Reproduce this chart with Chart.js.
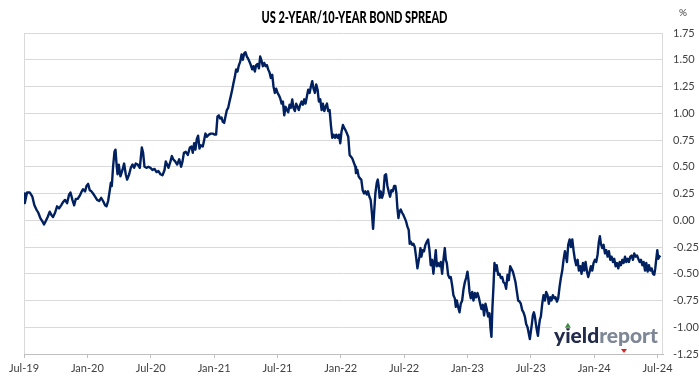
<!DOCTYPE html>
<html lang="en">
  <head>
    <meta charset="UTF-8" />
    <title>US 2-Year/10-Year Bond Spread</title>
    <script src="https://cdn.jsdelivr.net/npm/chart.js"></script>
    <style>
      html, body { margin: 0; padding: 0; background: #fff; }
      .chart-container { position: relative; width: 699px; height: 385px; }
    </style>
  </head>
  <body>
    <div class="chart-container">
      <canvas id="spreadChart"></canvas>
    </div>

    <script>
      // dates are decimal years (Jul-19 = 2019.5), spread in % points
      const dates = [
        2019.500, 2019.506, 2019.524, 2019.545, 2019.566, 2019.582, 2019.598, 2019.613, 2019.629, 2019.645,
        2019.658, 2019.671, 2019.687, 2019.703, 2019.716, 2019.729, 2019.745, 2019.761, 2019.777, 2019.793,
        2019.808, 2019.824, 2019.840, 2019.856, 2019.867, 2019.882, 2019.896, 2019.909, 2019.924, 2019.940,
        2019.956, 2019.966, 2019.982, 2019.993, 2020.006, 2020.019, 2020.032, 2020.045, 2020.061, 2020.077,
        2020.093, 2020.109, 2020.124, 2020.140, 2020.151, 2020.164, 2020.177, 2020.185, 2020.193, 2020.203,
        2020.214, 2020.222, 2020.230, 2020.238, 2020.248, 2020.261, 2020.277, 2020.290, 2020.303, 2020.314,
        2020.330, 2020.343, 2020.356, 2020.369, 2020.382, 2020.398, 2020.414, 2020.430, 2020.440, 2020.451,
        2020.466, 2020.482, 2020.498, 2020.514, 2020.530, 2020.546, 2020.561, 2020.577, 2020.593, 2020.609,
        2020.619, 2020.630, 2020.640, 2020.656, 2020.667, 2020.677, 2020.693, 2020.709, 2020.725, 2020.740,
        2020.751, 2020.762, 2020.777, 2020.793, 2020.809, 2020.822, 2020.832, 2020.843, 2020.853, 2020.864,
        2020.874, 2020.885, 2020.895, 2020.911, 2020.922, 2020.932, 2020.943, 2020.959, 2020.974, 2020.990,
        2021.006, 2021.016, 2021.027, 2021.038, 2021.048, 2021.059, 2021.069, 2021.080, 2021.090, 2021.101,
        2021.111, 2021.122, 2021.132, 2021.143, 2021.153, 2021.164, 2021.174, 2021.185, 2021.196, 2021.206,
        2021.217, 2021.227, 2021.238, 2021.248, 2021.259, 2021.269, 2021.280, 2021.290, 2021.301, 2021.311,
        2021.322, 2021.332, 2021.343, 2021.354, 2021.364, 2021.375, 2021.385, 2021.396, 2021.406, 2021.417,
        2021.427, 2021.438, 2021.448, 2021.459, 2021.469, 2021.480, 2021.490, 2021.501, 2021.511, 2021.522,
        2021.533, 2021.543, 2021.554, 2021.564, 2021.575, 2021.585, 2021.596, 2021.606, 2021.617, 2021.627,
        2021.638, 2021.648, 2021.659, 2021.669, 2021.680, 2021.691, 2021.701, 2021.712, 2021.722, 2021.733,
        2021.743, 2021.754, 2021.764, 2021.775, 2021.785, 2021.796, 2021.806, 2021.817, 2021.827, 2021.838,
        2021.849, 2021.859, 2021.870, 2021.880, 2021.891, 2021.901, 2021.912, 2021.922, 2021.933, 2021.943,
        2021.954, 2021.964, 2021.975, 2021.985, 2021.996, 2022.006, 2022.017, 2022.028, 2022.038, 2022.049,
        2022.059, 2022.070, 2022.090, 2022.115, 2022.120, 2022.131, 2022.141, 2022.152, 2022.162, 2022.173,
        2022.184, 2022.194, 2022.205, 2022.215, 2022.226, 2022.236, 2022.247, 2022.255, 2022.263, 2022.273,
        2022.284, 2022.292, 2022.299, 2022.307, 2022.315, 2022.326, 2022.336, 2022.347, 2022.357, 2022.368,
        2022.378, 2022.389, 2022.399, 2022.410, 2022.421, 2022.431, 2022.439, 2022.447, 2022.455, 2022.463,
        2022.473, 2022.484, 2022.494, 2022.505, 2022.515, 2022.526, 2022.536, 2022.544, 2022.552, 2022.563,
        2022.573, 2022.584, 2022.594, 2022.605, 2022.613, 2022.621, 2022.629, 2022.636, 2022.647, 2022.657,
        2022.668, 2022.679, 2022.689, 2022.700, 2022.710, 2022.721, 2022.731, 2022.742, 2022.750, 2022.758,
        2022.768, 2022.779, 2022.789, 2022.800, 2022.810, 2022.821, 2022.829, 2022.837, 2022.847, 2022.858,
        2022.868, 2022.879, 2022.889, 2022.900, 2022.908, 2022.916, 2022.926, 2022.937, 2022.947, 2022.958,
        2022.968, 2022.979, 2022.989, 2023.000, 2023.008, 2023.016, 2023.026, 2023.037, 2023.047, 2023.058,
        2023.068, 2023.079, 2023.089, 2023.100, 2023.110, 2023.121, 2023.131, 2023.142, 2023.152, 2023.163,
        2023.174, 2023.181, 2023.189, 2023.197, 2023.205, 2023.213, 2023.224, 2023.231, 2023.242, 2023.253,
        2023.263, 2023.274, 2023.284, 2023.295, 2023.305, 2023.316, 2023.326, 2023.337, 2023.358, 2023.369,
        2023.379, 2023.390, 2023.400, 2023.411, 2023.421, 2023.432, 2023.442, 2023.453, 2023.463, 2023.474,
        2023.484, 2023.492, 2023.500, 2023.508, 2023.516, 2023.524, 2023.532, 2023.540, 2023.548, 2023.556,
        2023.563, 2023.571, 2023.579, 2023.590, 2023.600, 2023.611, 2023.621, 2023.632, 2023.642, 2023.653,
        2023.663, 2023.674, 2023.685, 2023.695, 2023.706, 2023.716, 2023.727, 2023.737, 2023.748, 2023.758,
        2023.769, 2023.777, 2023.785, 2023.795, 2023.806, 2023.816, 2023.827, 2023.837, 2023.848, 2023.858,
        2023.869, 2023.879, 2023.890, 2023.900, 2023.911, 2023.921, 2023.932, 2023.943, 2023.953, 2023.964,
        2023.974, 2023.985, 2023.995, 2024.006, 2024.016, 2024.027, 2024.037, 2024.045, 2024.053, 2024.064,
        2024.074, 2024.085, 2024.095, 2024.106, 2024.116, 2024.127, 2024.137, 2024.148, 2024.158, 2024.169,
        2024.180, 2024.190, 2024.201, 2024.211, 2024.222, 2024.232, 2024.243, 2024.253, 2024.264, 2024.274,
        2024.285, 2024.295, 2024.306, 2024.316, 2024.327, 2024.338, 2024.348, 2024.359, 2024.369, 2024.380,
        2024.390, 2024.401, 2024.411, 2024.422, 2024.432, 2024.443, 2024.453, 2024.464, 2024.474, 2024.482,
        2024.490, 2024.498, 2024.506, 2024.514, 2024.522
      ];

      const spread = [
        0.25, 0.16, 0.26, 0.26, 0.22, 0.14, 0.10, 0.07, 0.02, -0.01,
        -0.04, -0.01, 0.03, 0.08, 0.05, 0.03, 0.07, 0.13, 0.11, 0.14,
        0.17, 0.19, 0.16, 0.24, 0.26, 0.19, 0.14, 0.20, 0.20, 0.23,
        0.27, 0.29, 0.27, 0.32, 0.34, 0.28, 0.27, 0.25, 0.22, 0.19,
        0.18, 0.21, 0.18, 0.14, 0.13, 0.18, 0.28, 0.35, 0.32, 0.50,
        0.64, 0.66, 0.53, 0.43, 0.52, 0.41, 0.47, 0.53, 0.43, 0.38,
        0.43, 0.49, 0.52, 0.49, 0.53, 0.52, 0.49, 0.68, 0.63, 0.50,
        0.49, 0.50, 0.49, 0.47, 0.48, 0.45, 0.46, 0.43, 0.42, 0.47,
        0.55, 0.52, 0.49, 0.55, 0.60, 0.57, 0.55, 0.52, 0.57, 0.50,
        0.55, 0.63, 0.64, 0.61, 0.68, 0.69, 0.63, 0.72, 0.66, 0.76,
        0.79, 0.67, 0.70, 0.69, 0.75, 0.81, 0.78, 0.80, 0.81, 0.81,
        0.80, 0.80, 0.97, 0.98, 0.95, 0.96, 0.92, 0.91, 0.97, 1.03,
        1.05, 1.11, 1.16, 1.22, 1.28, 1.34, 1.41, 1.39, 1.45, 1.48,
        1.55, 1.50, 1.56, 1.57, 1.53, 1.51, 1.48, 1.45, 1.41, 1.44,
        1.39, 1.45, 1.46, 1.42, 1.53, 1.49, 1.44, 1.47, 1.44, 1.45,
        1.41, 1.38, 1.33, 1.36, 1.25, 1.19, 1.23, 1.19, 1.17, 1.14,
        1.09, 1.11, 0.98, 1.06, 1.03, 1.01, 1.08, 1.05, 1.13, 1.05,
        1.02, 1.09, 1.06, 1.03, 1.08, 1.11, 1.08, 1.13, 1.09, 1.16,
        1.22, 1.19, 1.25, 1.30, 1.23, 1.19, 1.27, 1.22, 1.11, 1.13,
        1.03, 1.09, 1.02, 1.06, 1.09, 1.02, 1.03, 0.89, 0.77, 0.80,
        0.77, 0.80, 0.77, 0.80, 0.72, 0.83, 0.89, 0.86, 0.84, 0.81,
        0.78, 0.61, 0.58, 0.50, 0.44, 0.47, 0.41, 0.39, 0.38, 0.28,
        0.25, 0.27, 0.24, 0.27, 0.22, 0.19, 0.05, -0.08, 0.07, 0.25,
        0.35, 0.38, 0.32, 0.21, 0.27, 0.21, 0.25, 0.42, 0.43, 0.32,
        0.27, 0.22, 0.28, 0.27, 0.32, 0.32, 0.25, 0.11, 0.02, 0.08,
        0.10, 0.07, 0.05, 0.02, -0.01, -0.06, -0.09, -0.22, -0.20, -0.23,
        -0.22, -0.25, -0.34, -0.45, -0.39, -0.34, -0.26, -0.34, -0.28, -0.29,
        -0.23, -0.20, -0.18, -0.28, -0.42, -0.37, -0.50, -0.37, -0.28, -0.43,
        -0.40, -0.43, -0.39, -0.50, -0.37, -0.26, -0.37, -0.40, -0.51, -0.54,
        -0.53, -0.61, -0.70, -0.73, -0.81, -0.75, -0.81, -0.86, -0.78, -0.75,
        -0.65, -0.58, -0.54, -0.48, -0.56, -0.67, -0.73, -0.67, -0.75, -0.68,
        -0.72, -0.68, -0.72, -0.78, -0.83, -0.79, -0.89, -0.78, -0.83, -0.90,
        -0.87, -1.00, -1.09, -0.81, -0.62, -0.40, -0.47, -0.42, -0.51, -0.50,
        -0.54, -0.53, -0.58, -0.59, -0.64, -0.51, -0.56, -0.43, -0.48, -0.53,
        -0.58, -0.67, -0.75, -0.76, -0.78, -0.84, -0.86, -0.90, -0.97, -1.00,
        -1.06, -1.11, -1.04, -0.97, -0.89, -0.86, -0.90, -0.97, -1.03, -1.08,
        -1.00, -0.93, -0.90, -0.78, -0.70, -0.75, -0.67, -0.70, -0.78, -0.72,
        -0.75, -0.70, -0.73, -0.72, -0.76, -0.73, -0.62, -0.54, -0.47, -0.37,
        -0.29, -0.34, -0.39, -0.23, -0.18, -0.25, -0.18, -0.28, -0.37, -0.42,
        -0.37, -0.47, -0.43, -0.50, -0.40, -0.47, -0.39, -0.48, -0.53, -0.48,
        -0.43, -0.47, -0.40, -0.37, -0.39, -0.32, -0.20, -0.15, -0.22, -0.26,
        -0.23, -0.31, -0.28, -0.34, -0.29, -0.37, -0.34, -0.39, -0.36, -0.43,
        -0.40, -0.45, -0.39, -0.42, -0.37, -0.40, -0.34, -0.39, -0.36, -0.39,
        -0.34, -0.33, -0.37, -0.31, -0.34, -0.33, -0.36, -0.39, -0.37, -0.42,
        -0.39, -0.47, -0.40, -0.48, -0.42, -0.47, -0.45, -0.50, -0.51, -0.45,
        -0.36, -0.28, -0.36, -0.34, -0.33
      ];

      const tickYears = [2019.5, 2020, 2020.5, 2021, 2021.5, 2022, 2022.5, 2023, 2023.5, 2024, 2024.5];
      const tickLabels = ["Jul-19", "Jan-20", "Jul-20", "Jan-21", "Jul-21", "Jan-22", "Jul-22", "Jan-23", "Jul-23", "Jan-24", "Jul-24"];
      const yTicks = [-1.25, -1, -0.75, -0.5, -0.25, 0, 0.25, 0.5, 0.75, 1, 1.25, 1.5, 1.75];
      const xMin = 2019.5;
      const xMax = 2024.543; // axis runs to mid-July 2024
      const titleText = "US 2-YEAR/10-YEAR BOND SPREAD";

      const labelColor = "#404040";
      const gridColor = "#d9d9d9";
      const fam = " Lato, 'Open Sans', sans-serif";

      Chart.defaults.font.family = "Lato, 'Open Sans', sans-serif";

      // frame lines, narrow title, logo and the "%" unit label
      const decorPlugin = {
        id: "decor",
        beforeDatasetsDraw(chart) {
          const { ctx, chartArea: a } = chart;
          ctx.save();
          ctx.strokeStyle = gridColor;
          ctx.lineWidth = 1;
          ctx.beginPath();
          ctx.moveTo(a.left + 0.5, a.top);
          ctx.lineTo(a.left + 0.5, a.bottom);
          ctx.moveTo(a.right - 0.5, a.top);
          ctx.lineTo(a.right - 0.5, a.bottom);
          ctx.stroke();
          ctx.restore();
        },
        afterDatasetsDraw(chart) {
          const { ctx, chartArea: a } = chart;
          ctx.save();
          ctx.fillStyle = "#ffffff";
          ctx.fillRect(a.right - 111, a.bottom - 28, 110, 27);

          let size = 16;
          ctx.font = "900 " + size + "px" + fam;
          const w0 = ctx.measureText("yieldreport").width;
          size = size * 104 / w0;
          ctx.font = "900 " + size + "px" + fam;
          const x0 = a.right - 109;
          const base = a.bottom - 11;
          ctx.textBaseline = "alphabetic";
          ctx.textAlign = "left";
          ctx.fillStyle = "#232b4a";
          ctx.fillText("yield", x0, base);
          const wYield = ctx.measureText("yield").width;
          ctx.fillStyle = "#7d8796";
          ctx.fillText("report", x0 + wYield, base);

          // green triangle as the dot of the i
          const ix = x0 + ctx.measureText("y").width + ctx.measureText("i").width / 2;
          const iy = base - size * 0.8;
          ctx.fillStyle = "#ffffff";
          ctx.fillRect(ix - 3.5, iy - 4, 7, 6);
          ctx.fillStyle = "#3c8c3c";
          ctx.beginPath();
          ctx.moveTo(ix, iy - 3.5);
          ctx.lineTo(ix + 3, iy + 1.5);
          ctx.lineTo(ix - 3, iy + 1.5);
          ctx.closePath();
          ctx.fill();

          // red marker under "report"
          const rx = x0 + 70;
          ctx.fillStyle = "#e02020";
          ctx.beginPath();
          ctx.moveTo(rx - 3, a.bottom - 5);
          ctx.lineTo(rx + 3, a.bottom - 5);
          ctx.lineTo(rx, a.bottom - 1);
          ctx.closePath();
          ctx.fill();
          ctx.restore();
        },
        afterDraw(chart) {
          const { ctx, chartArea: a } = chart;
          ctx.save();
          ctx.font = "10px" + fam;
          ctx.fillStyle = labelColor;
          ctx.textAlign = "center";
          ctx.textBaseline = "middle";
          ctx.fillText("%", a.right + 20, 13);

          // title, squeezed to the narrow width of the original face
          ctx.font = "900 16.5px" + fam;
          ctx.fillStyle = "#000000";
          const tw = ctx.measureText(titleText).width;
          const sx = 186 / tw;
          ctx.translate(354.5, 17.5);
          ctx.scale(sx, 1);
          ctx.fillText(titleText, 0, 0);
          ctx.restore();
        },
      };

      const points = dates.map((d, i) => ({ x: d, y: spread[i] }));

      new Chart(document.getElementById("spreadChart").getContext("2d"), {
        type: "line",
        data: {
          datasets: [
            {
              label: "US 2-year/10-year spread",
              data: points,
              borderColor: "#002060",
              borderWidth: 2.4,
              pointRadius: 0,
              tension: 0,
              borderJoinStyle: "round",
              fill: false,
            },
          ],
        },
        options: {
          responsive: true,
          maintainAspectRatio: false,
          animation: false,
          devicePixelRatio: 1,
          layout: { padding: { left: 24, right: 0, top: 33, bottom: 0 } },
          plugins: {
            legend: { display: false },
            tooltip: { enabled: false },
            title: { display: false },
          },
          scales: {
            x: {
              type: "linear",
              min: xMin,
              max: xMax,
              afterBuildTicks(scale) {
                scale.ticks = tickYears.map((v) => ({ value: v }));
              },
              afterFit(scale) {
                scale.height = 31;
              },
              ticks: {
                autoSkip: false,
                maxRotation: 0,
                padding: 4,
                color: labelColor,
                font: { size: 11 },
                callback: (value, index) => tickLabels[index],
              },
              grid: {
                drawOnChartArea: false,
                drawTicks: true,
                tickLength: 4,
                color: "#bfbfbf",
              },
              border: { display: true, color: "#bfbfbf" },
            },
            y: {
              position: "right",
              min: yTicks[0],
              max: yTicks[yTicks.length - 1],
              afterBuildTicks(scale) {
                scale.ticks = yTicks.map((v) => ({ value: v }));
              },
              afterFit(scale) {
                scale.width = 36;
              },
              ticks: {
                padding: 10,
                color: labelColor,
                font: { size: 11 },
                callback: (value) => value.toFixed(2),
              },
              grid: { color: gridColor, drawTicks: false, lineWidth: 1 },
              border: { display: false },
            },
          },
        },
        plugins: [decorPlugin],
      });
    </script>
  </body>
</html>
